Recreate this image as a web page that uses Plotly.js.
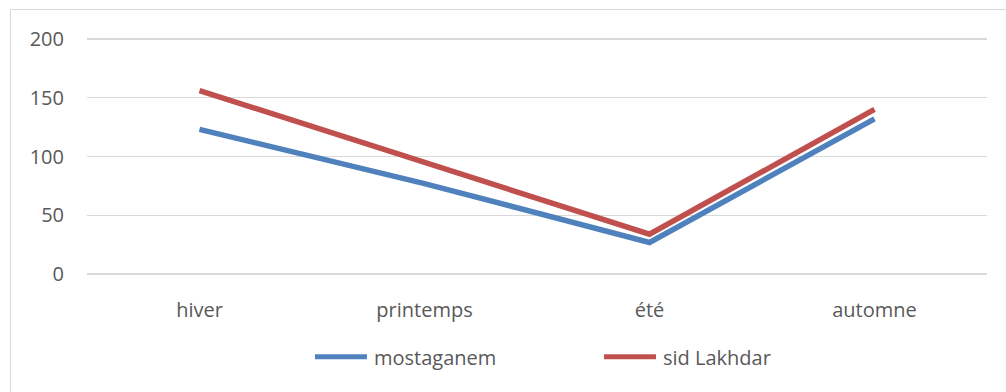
<!DOCTYPE html>
<html>
<head>
<meta charset="utf-8">
<script src="https://cdn.plot.ly/plotly-3.0.1.min.js"></script>
<style>
  html, body { margin: 0; padding: 0; background: #ffffff; overflow: hidden; }
  #frame { position: absolute; left: 0; top: 0; width: 1006px; height: 392px; }
  #box { position: absolute; left: 10px; top: 9px; width: 1010px; height: 400px;
         border: 1px solid #d9d9d9; pointer-events: none; }
  #chart { position: absolute; left: 0; top: 0; width: 1006px; height: 392px; }
</style>
</head>
<body>
<div id="frame">
  <div id="chart"></div>
  <div id="box"></div>
</div>
<script>
// Seasonal values for the two stations
const seasons = ["hiver", "printemps", "été", "automne"];
const mostaganem = [123, 77, 27, 132];
const sidLakhdar = [156, 95, 34, 140];
const seriesNames = ["mostaganem", "sid Lakhdar"];
const yTicks = [0, 50, 100, 150, 200];

const textColor = "#595959";
const fontFamily = "'Open Sans', 'Liberation Sans', sans-serif";
const fontSize = 20;

const traces = [
  {
    x: seasons, y: mostaganem, name: seriesNames[0],
    type: "scatter", mode: "lines",
    line: { color: "#4f81bd", width: 5.5 }
  },
  {
    x: seasons, y: sidLakhdar, name: seriesNames[1],
    type: "scatter", mode: "lines",
    line: { color: "#c0504d", width: 5.5 }
  }
];

const layout = {
  width: 1006, height: 392,
  // padding on the value range keeps the 0 and 200 grid lines inside the plot
  margin: { l: 87, r: 19, t: 37.2, b: 115.9 },
  paper_bgcolor: "rgba(0,0,0,0)",
  plot_bgcolor: "#ffffff",
  font: { family: fontFamily, size: fontSize, color: textColor },
  showlegend: true,
  legend: {
    orientation: "h", x: 0.2533, xanchor: "left", y: -0.338, yanchor: "middle",
    font: { family: fontFamily, size: fontSize, color: textColor },
    entrywidth: 225, itemwidth: 49
  },
  xaxis: {
    type: "category", range: [-0.5, 3.5],
    showgrid: false, zeroline: false,
    showline: false, ticks: "",
    ticklabelstandoff: 20,
    tickfont: { family: fontFamily, size: fontSize, color: textColor },
    fixedrange: true
  },
  yaxis: {
    range: [-1.5, 201.5], tickvals: yTicks,
    showgrid: true, gridcolor: "#d9d9d9", gridwidth: 1.5,
    zeroline: false, showline: false, ticks: "",
    ticklabelstandoff: 22,
    tickfont: { family: fontFamily, size: fontSize, color: textColor },
    fixedrange: true
  }
};

Plotly.newPlot("chart", traces, layout, { displayModeBar: false, staticPlot: true })
  .then(function (gd) {
    // longer legend swatches, ending just before the series name
    gd.querySelectorAll(".legend .legendlines path").forEach(function (p) {
      p.setAttribute("d", "M0,0h52");
      p.style.strokeWidth = "5px";
    });
  });
</script>
</body>
</html>
